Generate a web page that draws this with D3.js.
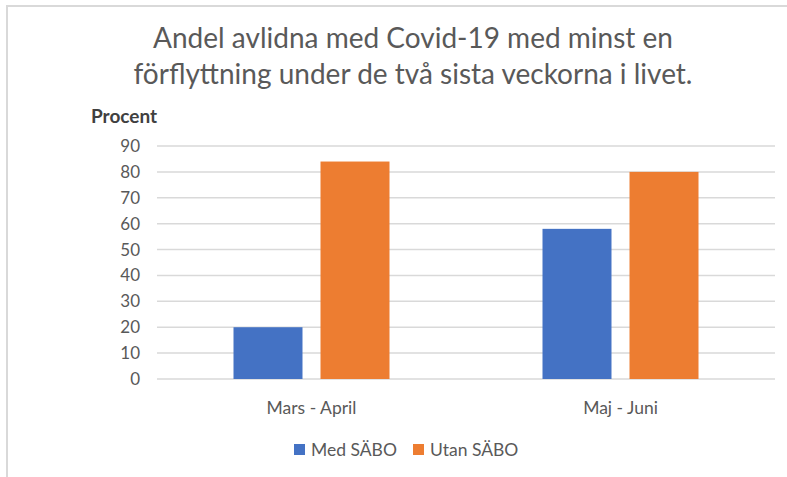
<!DOCTYPE html>
<meta charset="utf-8">
<style>
    body { margin: 0; background: #fff; }
    text { font-family: Lato, "Open Sans", sans-serif; fill: #595959; }
</style>
<svg width="787" height="477"></svg>
<script src="https://d3js.org/d3.v7.min.js"></script>
<script>
    // data
    var categories = ["Mars - April", "Maj - Juni"];
    var series = ["Med SÄBO", "Utan SÄBO"];
    var medSabo = [20, 58];
    var utanSabo = [84, 80];
    var yTicks = [0, 10, 20, 30, 40, 50, 60, 70, 80, 90];
    var titleLines = ["Andel avlidna med Covid-19 med minst en",
        "förflyttning under de två sista veckorna i livet."];
    var colors = ["#4472c4", "#ed7d31"];

    var svg = d3.select("svg");
    var plotLeft = 157, plotRight = 775, plotTop = 146, plotBottom = 379;

    // frame (top and left edge only visible)
    svg.append("rect").attr("x", 6).attr("y", 5).attr("width", 781).attr("height", 2).attr("fill", "#d9d9d9");
    svg.append("rect").attr("x", 6).attr("y", 5).attr("width", 2).attr("height", 472).attr("fill", "#d9d9d9");

    // title
    svg.selectAll(".title")
        .data(titleLines)
        .enter()
        .append("text")
        .attr("class", "title")
        .attr("x", 413)
        .attr("y", function (d, i) { return 48 + i * 36; })
        .attr("text-anchor", "middle")
        .style("font-size", "28px")
        .text(function (d) { return d; });

    svg.append("text")
        .attr("x", 91).attr("y", 123)
        .style("font-size", "19px")
        .style("font-weight", "bold")
        .style("fill", "#404040")
        .text("Procent");

    var y = d3.scaleLinear().domain([0, 90]).range([plotBottom, plotTop]);
    var x0 = d3.scaleBand().domain(categories).range([plotLeft, plotRight]);
    var groupW = 156;
    var x1 = d3.scaleBand().domain(series)
        .range([(x0.bandwidth() - groupW) / 2, (x0.bandwidth() + groupW) / 2])
        .paddingInner(0.207);

    // grid
    svg.append("g")
        .selectAll("line")
        .data(yTicks)
        .enter()
        .append("line")
        .attr("x1", plotLeft).attr("x2", plotRight)
        .attr("y1", function (d) { return y(d); })
        .attr("y2", function (d) { return y(d); })
        .attr("stroke", "#d9d9d9")
        .attr("stroke-width", 1.5);

    // y axis labels
    svg.append("g")
        .selectAll("text")
        .data(yTicks)
        .enter()
        .append("text")
        .attr("x", 140)
        .attr("y", function (d) { return y(d) + 6; })
        .attr("text-anchor", "end")
        .style("font-size", "17px")
        .text(function (d) { return d; });

    // bars
    var values = [medSabo, utanSabo];
    var groups = svg.append("g")
        .selectAll("g")
        .data(categories)
        .enter()
        .append("g")
        .attr("transform", function (d) { return "translate(" + x0(d) + ",0)"; });

    groups.selectAll("rect")
        .data(function (d, ci) {
            return series.map(function (s, si) { return { s: s, si: si, v: values[si][ci] }; });
        })
        .enter()
        .append("rect")
        .attr("x", function (d) { return x1(d.s); })
        .attr("width", x1.bandwidth())
        .attr("y", function (d) { return y(d.v); })
        .attr("height", function (d) { return plotBottom - y(d.v); })
        .attr("fill", function (d) { return colors[d.si]; });

    // category labels
    svg.append("g")
        .selectAll("text")
        .data(categories)
        .enter()
        .append("text")
        .attr("x", function (d) { return x0(d) + x0.bandwidth() / 2; })
        .attr("y", 414)
        .attr("text-anchor", "middle")
        .style("font-size", "17.5px")
        .text(function (d) { return d; });

    // legend
    var legendX = [294, 413];
    var legend = svg.append("g")
        .selectAll("g")
        .data(series)
        .enter()
        .append("g")
        .attr("transform", function (d, i) { return "translate(" + legendX[i] + ",444)"; });
    legend.append("rect")
        .attr("width", 11).attr("height", 11)
        .attr("fill", function (d, i) { return colors[i]; });
    legend.append("text")
        .attr("x", 17).attr("y", 12)
        .style("font-size", "17.5px")
        .text(function (d) { return d; });
</script>
